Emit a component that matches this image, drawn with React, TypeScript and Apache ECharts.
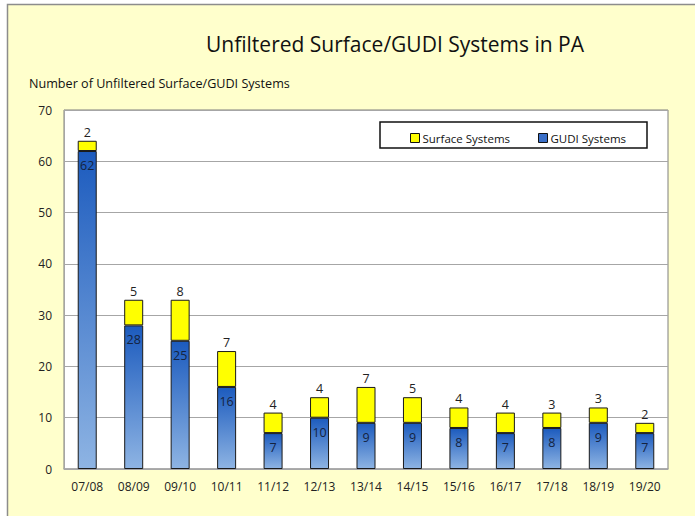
import React, { useEffect, useRef } from "react";
import * as echarts from "echarts";

const categories = ["07/08", "08/09", "09/10", "10/11", "11/12", "12/13", "13/14", "14/15", "15/16", "16/17", "17/18", "18/19", "19/20"];
const gudiValues = [62, 28, 25, 16, 7, 10, 9, 9, 8, 7, 8, 9, 7];
const surfaceValues = [2, 5, 8, 7, 4, 4, 7, 5, 4, 4, 3, 3, 2];
const yTicks = [0, 10, 20, 30, 40, 50, 60, 70];

const FONT = "'Open Sans', 'Noto Sans', sans-serif";

export default function App() {
  const ref = useRef<HTMLDivElement>(null);
  useEffect(() => {
    if (!ref.current) return;
    const chart = echarts.init(ref.current, undefined, { renderer: "svg" });
    chart.setOption({
      animation: false,
      backgroundColor: "#ffffff",
      textStyle: { fontFamily: FONT },
      title: {
        text: "Unfiltered Surface/GUDI Systems in PA",
        left: 390,
        textAlign: "center",
        top: 28,
        textStyle: { fontFamily: FONT, fontSize: 21, fontWeight: "normal", color: "#111" },
      },
      graphic: [
        {
          type: "rect",
          z: -10,
          silent: true,
          shape: { x: 7.5, y: 4.5, width: 700, height: 530 },
          style: { fill: "#FFFFCC", stroke: "#8c8c8c", lineWidth: 1.5 },
        },
        {
          type: "text",
          left: 29,
          top: 77,
          style: { text: "Number of Unfiltered Surface/GUDI Systems", fontFamily: FONT, fontSize: 12.6, fill: "#111" },
        },
        {
          type: "rect",
          z: 5,
          shape: { x: 380, y: 122, width: 267, height: 26 },
          style: { fill: "#ffffff", stroke: "#111", lineWidth: 1.5 },
        },
      ],
      legend: {
        left: 405,
        top: 127,
        z: 10,
        itemWidth: 9,
        itemHeight: 9,
        itemGap: 28,
        icon: "rect",
        textStyle: { fontFamily: FONT, fontSize: 11.5, color: "#111", padding: [0, 0, 0, -2] },
        data: [
          { name: "Surface Systems", itemStyle: { color: "#FFFF00", borderColor: "#111", borderWidth: 1 } },
          { name: "GUDI Systems", itemStyle: { color: "#3A6FC8", borderColor: "#111", borderWidth: 1 } },
        ],
      },
      grid: {
        left: 64,
        top: 110,
        right: 27,
        bottom: 47,
        show: true,
        backgroundColor: "#ffffff",
        borderColor: "#7f7f7f",
        borderWidth: 1,
      },
      xAxis: {
        type: "category",
        data: categories,
        axisTick: { show: false },
        axisLine: { lineStyle: { color: "#a6a6a6", width: 1.5 } },
        axisLabel: { fontFamily: FONT, fontSize: 12, color: "#222", margin: 11 },
      },
      yAxis: {
        type: "value",
        min: yTicks[0],
        max: yTicks[yTicks.length - 1],
        interval: 10,
        axisLine: { show: true, lineStyle: { color: "#a6a6a6" } },
        axisTick: { show: false },
        splitLine: { lineStyle: { color: "#a6a6a6", width: 1.2 } },
        axisLabel: { fontFamily: FONT, fontSize: 12, color: "#222", margin: 12 },
      },
      series: [
        {
          name: "GUDI Systems",
          type: "bar",
          stack: "total",
          barWidth: 19,
          data: gudiValues,
          itemStyle: {
            color: new echarts.graphic.LinearGradient(0, 0, 0, 1, [
              { offset: 0, color: "#1C5BBE" },
              { offset: 1, color: "#8EB4E3" },
            ]),
            borderColor: "#1a1a1a",
            borderWidth: 1,
          },
          label: {
            show: true,
            position: "insideTop",
            distance: 8,
            fontFamily: FONT,
            fontSize: 12.5,
            color: "#14233f",
          },
        },
        {
          name: "Surface Systems",
          type: "bar",
          stack: "total",
          barWidth: 19,
          data: surfaceValues,
          itemStyle: { color: "#FFFF00", borderColor: "#1a1a1a", borderWidth: 1 },
          label: {
            show: true,
            position: "top",
            distance: 2,
            fontFamily: FONT,
            fontSize: 12.5,
            color: "#222",
          },
        },
      ],
    });
    return () => chart.dispose();
  }, []);
  return <div ref={ref} style={{ position: "fixed", left: 0, top: 0, width: 695, height: 516 }} />;
}
